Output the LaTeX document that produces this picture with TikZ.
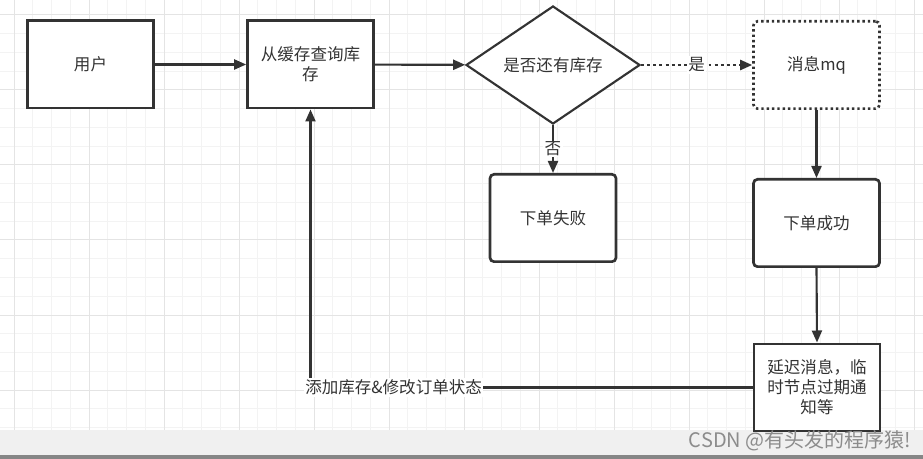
\documentclass[tikz,border=0pt]{standalone}
\usepackage{fontspec}
\setmainfont{Noto Sans CJK SC}
\usetikzlibrary{arrows.meta,shapes.geometric}
\definecolor{ink}{HTML}{333333}
\definecolor{gmajor}{HTML}{E4E4E4}
\definecolor{gminor}{HTML}{F3F3F3}
\definecolor{band}{HTML}{F0F0F0}
\definecolor{bandedge}{HTML}{868686}
\definecolor{wm}{HTML}{8C8C8C}
\tikzset{
  box/.style={draw=ink, line width=2pt, fill=white, text=ink, font=\fontsize{12.4pt}{15pt}\selectfont,
    minimum width=94.5pt, minimum height=65.5pt, inner sep=0pt, align=center},
  roundbox/.style={box, rounded corners=3pt},
  dotbox/.style={box, rounded corners=3pt, dash pattern=on 1.8pt off 2.2pt},
  decision/.style={diamond, draw=ink, line width=1.6pt, fill=white, text=ink,
    font=\fontsize{12.4pt}{15pt}\selectfont, minimum width=130.5pt, minimum height=88.5pt, inner sep=0pt},
  conn/.style={draw=ink, line width=1.6pt, -{Triangle[length=9pt,width=7.5pt]}},
  dotconn/.style={conn, line width=1.8pt, dash pattern=on 2.2pt off 2.4pt},
  lbl/.style={fill=white, text=ink, font=\fontsize{12.4pt}{15pt}\selectfont, inner sep=1pt}
}
\begin{document}
\begin{tikzpicture}[x=0.75pt,y=-0.75pt]
\useasboundingbox (0,0) rectangle (923,459);
\fill[white] (0,0) rectangle (923,459);
% grid
\foreach \i in {0,...,49} {
  \pgfmathsetmacro{\gx}{14+18.75*(\i-1)}
  \draw[gminor, line width=0.75pt] (\gx,0) -- (\gx,430);
}
\foreach \i in {0,...,24} {
  \pgfmathsetmacro{\gy}{15+18.75*(\i-1)}
  \draw[gminor, line width=0.75pt] (0,\gy) -- (923,\gy);
}
\foreach \i in {0,...,12} {
  \pgfmathsetmacro{\gx}{14+75*\i}
  \draw[gmajor, line width=0.75pt] (\gx,0) -- (\gx,430);
}
\foreach \i in {0,...,5} {
  \pgfmathsetmacro{\gy}{15+75*\i}
  \draw[gmajor, line width=0.75pt] (0,\gy) -- (923,\gy);
}
% nodes
\node[box] (user) at (90.5,64.5) {用户};
\node[box] (cache) at (310.5,64.5) {从缓存查询库\\存};
\node[decision] (dia) at (553,65) {是否还有库存};
\node[dotbox] (mq) at (816.5,65) {消息mq};
\node[roundbox] (fail) at (553,218) {下单失败};
\node[roundbox] (succ) at (816.5,223) {下单成功};
\node[box] (delay) at (817,387.5) {延迟消息，临\\时节点过期通\\知等};
% connectors
\draw[conn] (user) -- (cache);
\draw[conn] (cache) -- (dia);
\draw[dotconn] (dia.east) -- node[lbl] (yes) {是} (mq.west);
\draw[conn] (dia.south) -- node[lbl] (no) {否} (fail.north);
\draw[conn] (mq.south) -- (succ.north);
\draw[conn] (succ.south) -- (delay.north);
\draw[conn] (delay.west) -| node[lbl, pos=0.406] (back) {添加库存\&修改订单状态} (cache.south);
% bottom band
\fill[band] (0,430) rectangle (923,455);
\fill[bandedge] (0,455) rectangle (923,459);
\draw[ink, line width=2pt] (754,430) -- (754,431) -- (880,431) -- (880,430);
\node[text=wm, font=\fontsize{15pt}{17pt}\selectfont, inner sep=0pt] (mark) at (800,441) {CSDN @有头发的程序猿!};
\end{tikzpicture}
\end{document}
